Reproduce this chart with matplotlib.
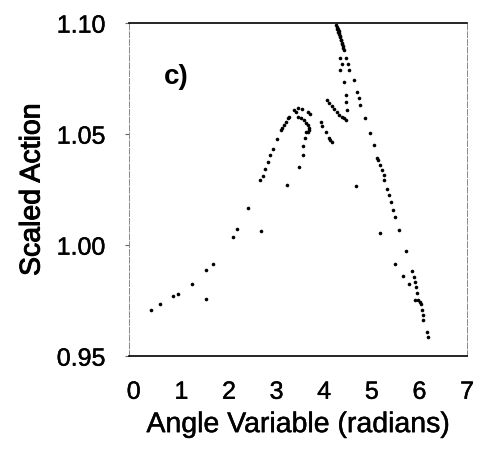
"""Scaled action vs angle variable, panel c)."""

import matplotlib

matplotlib.use("Agg")
import matplotlib.pyplot as plt
import matplotlib.patheffects as pe

plt.rcParams["font.family"] = ["Liberation Sans", "DejaVu Sans"]

# left branch rising towards the hump
rise_x = [0.37, 0.55, 0.83, 0.92, 1.22, 1.52, 1.66, 2.08, 2.16, 2.40, 2.65, 2.71,
          2.76, 2.81, 2.86, 2.92, 3.00, 3.09, 3.12, 3.16, 3.19, 3.23, 3.26]
rise_y = [0.9707, 0.9733, 0.9769, 0.9779, 0.9826, 0.9887, 0.9916, 1.0035, 1.0071,
          1.0168, 1.0294, 1.0311, 1.0345, 1.0375, 1.0405, 1.0431, 1.0477, 1.0518,
          1.0530, 1.0543, 1.0556, 1.0571, 1.0578]

# curl at the top of the hump and the dotted column under it
hump_x = [3.37, 3.40, 3.44, 3.54, 3.65, 3.70, 3.44, 3.51, 3.58, 3.62, 3.65, 3.67,
          3.68, 3.65, 3.61, 3.59, 3.56, 3.56, 3.47]
hump_y = [1.0608, 1.0600, 1.0616, 1.0613, 1.0598, 1.0593, 1.0578, 1.0571, 1.0563,
          1.0552, 1.0541, 1.0529, 1.0518, 1.0511, 1.0508, 1.0481, 1.0447, 1.0405,
          1.0353]

# hook between hump and peak
hook_x = [3.93, 3.96, 4.03, 4.10, 4.13, 4.17, 4.06, 4.11, 4.16, 4.21, 4.27, 4.32,
          4.37, 4.41, 4.45]
hook_y = [1.0555, 1.0537, 1.0510, 1.0481, 1.0473, 1.0465, 1.0653, 1.0640, 1.0626,
          1.0612, 1.0598, 1.0585, 1.0576, 1.0571, 1.0566]

# peak wedge and the two dotted columns below it
peak_x = [4.24, 4.26, 4.28, 4.30, 4.32, 4.34, 4.36, 4.38, 4.40, 4.41,
          4.27, 4.29, 4.31, 4.33, 4.35, 4.37, 4.39,
          4.34, 4.37, 4.34, 4.41, 4.45, 4.46, 4.48,
          4.46, 4.50, 4.53, 4.62, 4.69, 4.74, 4.76, 4.85]
peak_y = [1.0991, 1.0985, 1.0975, 1.0965, 1.0955, 1.0940, 1.0925, 1.0910, 1.0895,
          1.0880, 1.0975, 1.0962, 1.0950, 1.0937, 1.0922, 1.0905, 1.0890,
          1.0841, 1.0818, 1.0788, 1.0736, 1.0676, 1.0645, 1.0608,
          1.0841, 1.0818, 1.0788, 1.0743, 1.0691, 1.0661, 1.0631, 1.0571]

# falling branch down to the lower right
fall_x = [4.97, 5.04, 5.11, 5.14, 5.18, 5.21, 5.25, 5.25, 5.32, 5.36, 5.41, 5.45,
          5.49, 5.57, 5.72, 5.65, 5.84, 5.79, 5.88, 5.90, 5.92, 5.94, 5.91, 5.96,
          6.02, 6.03, 6.05, 6.07, 6.08, 6.15, 6.17]
fall_y = [1.0506, 1.0450, 1.0391, 1.0383, 1.0360, 1.0338, 1.0315, 1.0293, 1.0255,
          1.0226, 1.0193, 1.0160, 1.0128, 1.0069, 0.9974, 0.9860, 0.9884, 0.9824,
          0.9857, 0.9834, 0.9810, 0.9785, 0.9755, 0.9752, 0.9745, 0.9734, 0.9707,
          0.9685, 0.9662, 0.9609, 0.9587]

# lone points away from the branches
lone_x = [1.52, 2.67, 3.21, 4.66, 5.18, 5.48]
lone_y = [0.9758, 1.0064, 1.0270, 1.0266, 1.0055, 0.9914]

# scanned print looks a little heavier than plain text
light = [pe.withStroke(linewidth=0.3, foreground="black")]
heavy = [pe.withStroke(linewidth=0.7, foreground="black")]

fig = plt.figure(figsize=(4.85, 4.73), dpi=100)
ax = fig.add_axes([0.266, 0.247, 0.697, 0.704])

for xs, ys in [(rise_x, rise_y), (hump_x, hump_y), (hook_x, hook_y),
               (peak_x, peak_y), (fall_x, fall_y), (lone_x, lone_y)]:
    ax.plot(xs, ys, "o", color="black", markersize=2.6, markeredgewidth=0)

ax.set_xlim(-0.1, 7.0)
ax.set_ylim(0.95, 1.10)
ax.set_xticks(range(8))
ax.set_yticks([0.95, 1.00, 1.05, 1.10])
ax.set_yticklabels(["0.95", "1.00", "1.05", "1.10"])

for side in ("top", "bottom"):
    ax.spines[side].set_linewidth(1.2)
    ax.spines[side].set_color("black")
for side in ("left", "right"):
    ax.spines[side].set_linewidth(0.7)
    ax.spines[side].set_color("#888888")
    ax.spines[side].set_linestyle((0, (6, 2)))

ax.tick_params(axis="x", length=0, pad=17, labelsize=18)
ax.tick_params(axis="y", length=3, width=0.8, color="#666666", pad=14, labelsize=18)
for lbl in ax.get_xticklabels() + ax.get_yticklabels():
    lbl.set_path_effects(light)

ax.set_xlabel("Angle Variable (radians)", fontsize=20.5, labelpad=6, path_effects=light)
ax.set_ylabel("Scaled Action", fontsize=20.5, labelpad=8, path_effects=heavy)
ax.text(0.9, 1.0757, "c)", fontsize=20, fontweight="bold", ha="center", va="center")

fig.savefig("out.png", dpi=100)
